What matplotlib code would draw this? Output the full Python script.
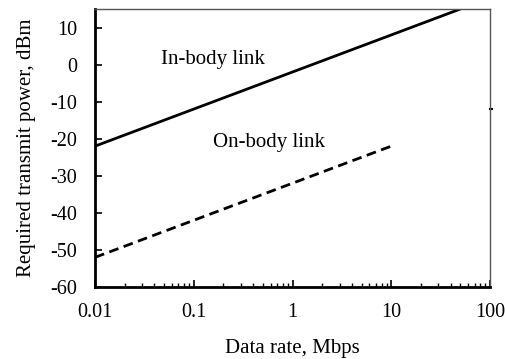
import numpy as np
import matplotlib
matplotlib.use("Agg")
import matplotlib.pyplot as plt
from matplotlib.ticker import LogLocator, NullFormatter

plt.rcParams["font.family"] = ["Liberation Serif", "DejaVu Serif"]
plt.rcParams["axes.unicode_minus"] = False

# data
in_body_rate = [0.01, 100]
in_body_power = [-22, 18]
on_body_rate = [0.01, 10]
on_body_power = [-52, -22]

x_ticks = [0.01, 0.1, 1, 10, 100]
x_tick_labels = ["0.01", "0.1", "1", "10", "100"]
y_ticks = [-60, -50, -40, -30, -20, -10, 0, 10]

fig = plt.figure(figsize=(5.05, 3.59), dpi=100)
ax = fig.add_axes([95 / 505, 1 - 287 / 359, 395 / 505, 278 / 359])

ax.plot(in_body_rate, in_body_power, color="black", lw=2)
ax.plot(on_body_rate, on_body_power, color="black", lw=2, ls=(0, (3.5, 2)))

ax.set_xscale("log")
ax.set_xlim(0.01, 100)
ax.set_ylim(-60, 15)
ax.set_xticks(x_ticks)
ax.set_xticklabels(x_tick_labels)
ax.xaxis.set_minor_locator(LogLocator(base=10, subs=np.arange(2, 10)))
ax.xaxis.set_minor_formatter(NullFormatter())
ax.set_yticks(y_ticks)

ax.tick_params(axis="both", which="major", direction="in", length=5, width=1.2,
               labelsize=14.5)
ax.tick_params(axis="y", which="major", pad=13)
ax.tick_params(axis="x", which="major", pad=11.5)
ax.tick_params(axis="x", which="minor", direction="in", length=3, width=1)

for side in ("left", "bottom"):
    ax.spines[side].set_linewidth(2)
    ax.spines[side].set_color("black")
for side in ("top", "right"):
    ax.spines[side].set_linewidth(1)
    ax.spines[side].set_color("#555555")

ax.text(0.047, 1.5, "In-body link", fontsize=15, va="center", ha="left")
ax.text(0.155, -21, "On-body link", fontsize=15, va="center", ha="left")

# small stray mark at the right edge
ax.plot([100, 104], [-12, -12], color="black", lw=1.5, clip_on=False)

ax.set_xlabel("Data rate, Mbps", fontsize=15, labelpad=12.5)
ax.set_ylabel("Required transmit power, dBm", fontsize=15, labelpad=10)

fig.savefig("out.png", dpi=100)
